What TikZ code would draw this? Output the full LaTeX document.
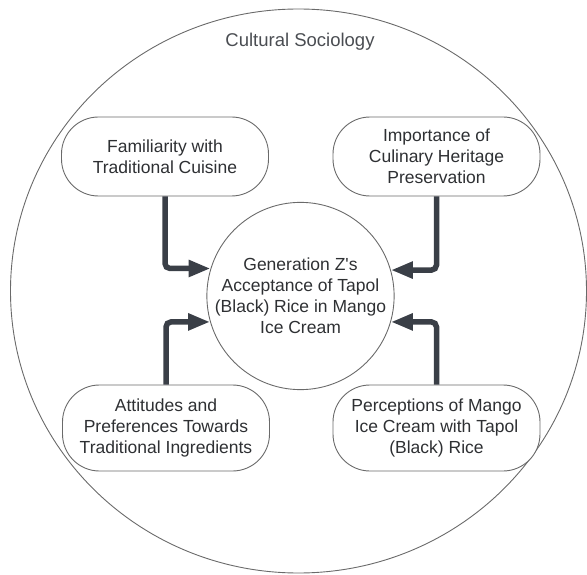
\documentclass[tikz,border=0pt]{standalone}
\usepackage{fontspec}
\setmainfont{Liberation Sans}
\usetikzlibrary{arrows.meta}
\definecolor{txt}{HTML}{2E3033}
\definecolor{lbl}{HTML}{4A4D52}
\definecolor{edge}{HTML}{6A6A6A}
\definecolor{arrc}{HTML}{3A3F47}
\tikzset{
  box/.style={draw=edge, line width=0.9pt, rounded corners=37pt, fill=white,
    text=txt, align=center, minimum width=207pt, inner sep=0pt,
    font=\fontsize{17.5}{21}\selectfont},
  hub/.style={draw=edge, line width=0.9pt, circle, minimum size=180pt, inner sep=0pt,
    text=txt, align=center, font=\fontsize{17.5}{21}\selectfont},
  arr/.style={draw=arrc, line width=5.5pt, rounded corners=5pt,
    -{Triangle[length=22pt,width=16pt]}}
}
\begin{document}
\begin{tikzpicture}[x=1pt,y=-1pt]
\useasboundingbox (0,0) rectangle (587,575);
\draw[edge, line width=0.9pt] (298.5,291) ellipse [x radius=288, y radius=282];
\node[text=lbl, font=\fontsize{18.5}{22}\selectfont] (title) at (300,42) {Cultural Sociology};
\node[hub] (c) at (300.5,296) {Generation Z\textquotesingle s\\Acceptance of Tapol\\(Black) Rice in Mango\\Ice Cream};
\node[box, minimum height=79pt] (tl) at (165,156.5) {Familiarity with\\Traditional Cuisine};
\node[box, minimum height=79pt] (tr) at (436.5,156.5) {Importance of\\Culinary Heritage\\Preservation};
\node[box, minimum height=86pt] (bl) at (166,428) {Attitudes and\\Preferences Towards\\Traditional Ingredients};
\node[box, minimum height=86pt] (br) at (436.5,428) {Perceptions of Mango\\Ice Cream with Tapol\\(Black) Rice};
\draw[arr] (tl.south) |- (c.163.2);
\draw[arr] (tr.south) |- (c.16.8);
\draw[arr] (bl.north) |- (c.196.8);
\draw[arr] (br.north) |- (c.-16.8);
\end{tikzpicture}
\end{document}
